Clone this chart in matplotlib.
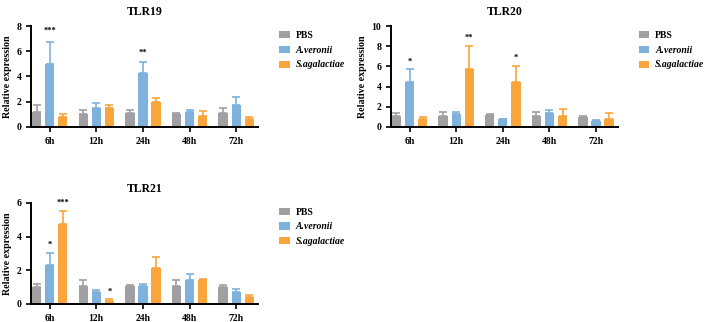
import matplotlib
matplotlib.use('Agg')
import matplotlib.pyplot as plt
import numpy as np

plt.rcParams['font.family'] = ['Liberation Serif', 'DejaVu Serif']

times = ['6h', '12h', '24h', '48h', '72h']
groups = ['PBS', 'A.veronii', 'S.agalactiae']
colors = ['#a0a0a2', '#7eb1dc', '#f9a53c']

# TLR19
tlr19_mean = [[1.15, 1.05, 1.1, 1.0, 1.1],
              [5.0, 1.5, 4.25, 1.15, 1.75],
              [0.75, 1.5, 2.0, 0.9, 0.6]]
tlr19_top = [[1.7, 1.3, 1.35, 1.1, 1.5],
             [6.75, 1.9, 5.15, 1.3, 2.4],
             [1.0, 1.75, 2.3, 1.25, 0.8]]
tlr19_sig = [(0, 1, '***', 7.3), (2, 1, '**', 5.6)]

# TLR20
tlr20_mean = [[1.05, 1.1, 1.15, 1.1, 1.0],
              [4.5, 1.3, 0.75, 1.4, 0.55],
              [0.75, 5.75, 4.5, 1.1, 0.8]]
tlr20_top = [[1.35, 1.45, 1.25, 1.45, 1.1],
             [5.75, 1.45, 0.8, 1.65, 0.7],
             [0.95, 8.0, 6.05, 1.75, 1.35]]
tlr20_sig = [(0, 1, '*', 6.1), (1, 2, '**', 8.4), (2, 2, '*', 6.5)]

# TLR21
tlr21_mean = [[1.0, 1.05, 1.05, 1.05, 1.0],
              [2.3, 0.7, 1.05, 1.4, 0.7],
              [4.75, 0.15, 2.15, 1.45, 0.4]]
tlr21_top = [[1.2, 1.4, 1.15, 1.4, 1.15],
             [3.05, 0.8, 1.2, 1.8, 0.9],
             [5.5, 0.3, 2.8, 1.5, 0.55]]
tlr21_sig = [(0, 1, '*', 3.3), (0, 2, '***', 5.75), (1, 2, '*', 0.5)]


def draw_panel(ax, title, means, tops, sigs, ymax, ystep):
    x = np.arange(len(times))
    w = 0.2
    off = 0.28
    for i in range(3):
        m = np.array(means[i])
        err = np.array(tops[i]) - m
        pos = x + (i - 1) * off
        ax.bar(pos, m, width=w, color=colors[i], label=groups[i], zorder=2)
        ax.errorbar(pos, m, yerr=[np.zeros_like(err), err], fmt='none',
                    ecolor=colors[i], elinewidth=1.2, capsize=3, capthick=1.2, zorder=1)
    for gi, si, txt, yy in sigs:
        ax.text(x[gi] + (si - 1) * off, yy, txt, ha='center', va='bottom',
                fontsize=6, fontweight='bold')
    ax.set_xlim(-0.4, 4.47)
    ax.set_ylim(0, ymax)
    ax.set_yticks(np.arange(0, ymax + 0.01, ystep))
    ax.set_xticks(x)
    ax.set_xticklabels(times, fontweight='bold', fontsize=7)
    for lab in ax.get_yticklabels():
        lab.set_fontweight('bold')
        lab.set_fontsize(7)
    ax.set_ylabel('Relative expression', fontweight='bold', fontsize=7.2, labelpad=3)
    ax.set_title(title, fontweight='bold', fontsize=8.5, pad=8)
    for s in ['top', 'right']:
        ax.spines[s].set_visible(False)
    for s in ['left', 'bottom']:
        ax.spines[s].set_linewidth(1.4)
    ax.tick_params(width=1.2, length=3.5)
    leg = ax.legend(loc='upper left', bbox_to_anchor=(1.055, 1.04), frameon=False,
                    handlelength=1.05, handleheight=0.75, handletextpad=0.6,
                    labelspacing=0.6, prop={'weight': 'bold', 'size': 7})
    for t in leg.get_texts()[1:]:
        t.set_style('italic')


fig = plt.figure(figsize=(7.12, 3.22), dpi=100)
ax1 = fig.add_axes([0.0435, 0.606, 0.319, 0.313])
ax2 = fig.add_axes([0.549, 0.606, 0.319, 0.313])
ax3 = fig.add_axes([0.0435, 0.056, 0.319, 0.314])

draw_panel(ax1, 'TLR19', tlr19_mean, tlr19_top, tlr19_sig, 8, 2)
draw_panel(ax2, 'TLR20', tlr20_mean, tlr20_top, tlr20_sig, 10, 2)
draw_panel(ax3, 'TLR21', tlr21_mean, tlr21_top, tlr21_sig, 6, 2)

plt.savefig('out.png', dpi=100)
